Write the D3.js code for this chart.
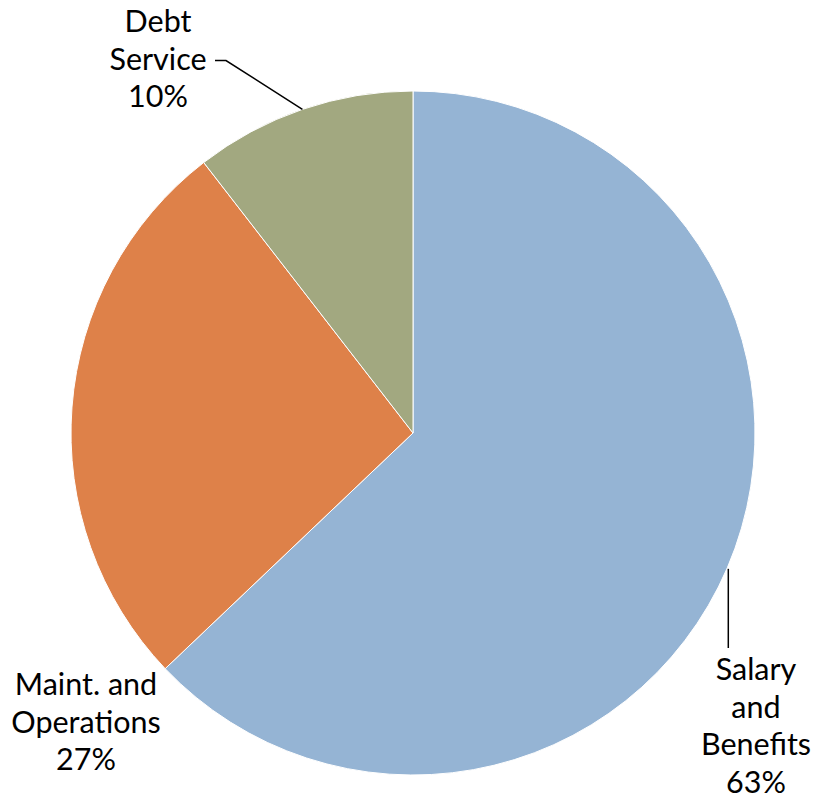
<!DOCTYPE html>
<html>
<meta charset="utf-8">
<style>
  body { margin: 0; background: #fff; }
  text { font-family: 'Century Gothic', 'Lato', sans-serif; font-size: 30.5px; fill: #000; }
</style>
<body>
<svg width="815" height="801"></svg>
<script src="https://d3js.org/d3.v7.min.js"></script>
<script>
  // data
  let categories = ["Salary and Benefits", "Maint. and Operations", "Debt Service"];
  let labelLines = [["Salary", "and", "Benefits"], ["Maint. and", "Operations"], ["Debt", "Service"]];
  let values = [62.9, 26.62, 10.48];
  let colors = ["#95B4D4", "#DE8149", "#A2A880"];

  let cx = 413, cy = 433, radius = 342;
  let lineHeight = 37.5;

  // where each label block sits (center x, baseline of first line), relative to the pie
  let labelPos = [
    {x: 756 - cx, y: 680 - cy, leader: "v"},
    {x: 86 - cx, y: 695 - cy, leader: null},
    {x: 158 - cx, y: 32 - cy, leader: "h"}
  ];

  let svg = d3.select("svg");
  let g = svg.append("g").attr("transform", "translate(" + cx + "," + cy + ")");

  let pie = d3.pie().sort(null).value(d => d)(values);
  let arc = d3.arc().innerRadius(0).outerRadius(radius);

  g.selectAll("path.slice")
    .data(pie)
    .join("path")
    .attr("class", "slice")
    .attr("d", arc)
    .style("fill", (d, i) => colors[i])
    .style("stroke", "#fff")
    .style("stroke-width", 1);

  // labels
  pie.forEach(function(d, i) {
    let p = labelPos[i];
    let t = g.append("text").attr("text-anchor", "middle");
    let lines = labelLines[i].concat([Math.round(values[i]) + "%"]);
    lines.forEach(function(s, j) {
      t.append("tspan").attr("x", p.x).attr("y", p.y + j * lineHeight).text(s);
    });

    // leader line from the middle of the slice's outer edge
    let mid = (d.startAngle + d.endAngle) / 2;
    let ex = Math.sin(mid) * radius, ey = -Math.cos(mid) * radius;
    if (p.leader === "v") {
      g.append("path")
        .attr("d", "M" + (ex + 1) + "," + (ey + 1) + "V" + (p.y - 32))
        .style("stroke", "#000").style("stroke-width", 1.5).style("fill", "none");
    } else if (p.leader === "h") {
      let ly = p.y + lineHeight - 9;
      g.append("path")
        .attr("d", "M" + ex + "," + ey + "L" + (p.x + 68) + "," + ly + "H" + (p.x + 57))
        .style("stroke", "#000").style("stroke-width", 1.5).style("fill", "none");
    }
  });
</script>
</body>
</html>
